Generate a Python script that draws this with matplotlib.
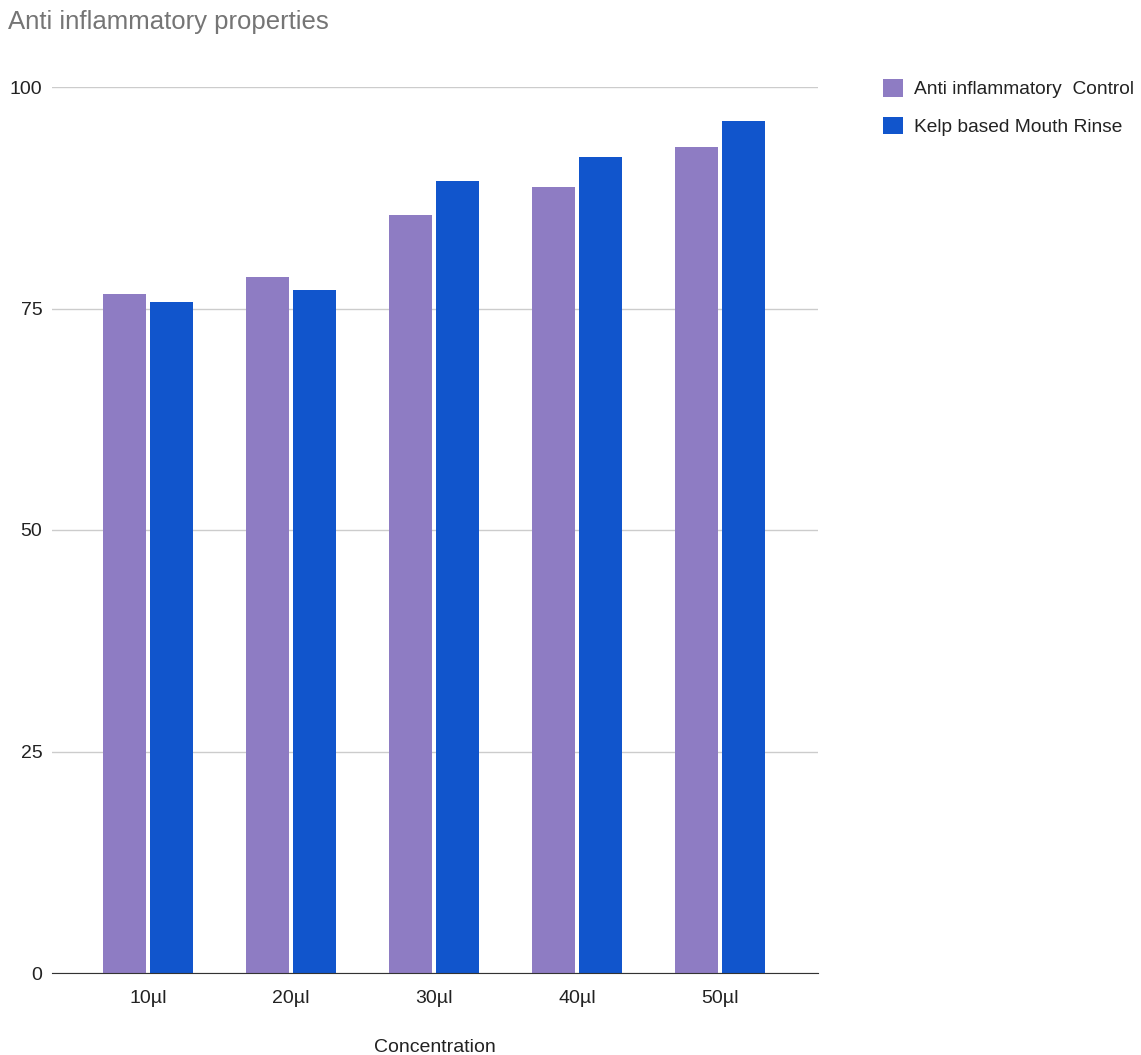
import numpy as np
import matplotlib.pyplot as plt

plt.rcParams['font.family'] = ['Liberation Sans', 'DejaVu Sans']

# Концентрации и значения (%)
concentrations = ["10µl", "20µl", "30µl", "40µl", "50µl"]
control = [76.6, 78.6, 85.6, 88.7, 93.2]
kelp_rinse = [75.7, 77.1, 89.4, 92.1, 96.2]
series_names = ["Anti inflammatory  Control", "Kelp based Mouth Rinse"]

W, H = 1141, 1055
fig = plt.figure(figsize=(W / 100, H / 100), dpi=100)
ax = fig.add_axes([52 / W, 1 - 973 / H, (818 - 52) / W, (973 - 87) / H])

x = np.arange(len(concentrations))
w = 0.30
b1 = ax.bar(x - 0.163, control, w, color="#8e7cc3", label=series_names[0], zorder=3)
b2 = ax.bar(x + 0.163, kelp_rinse, w, color="#1155cc", label=series_names[1], zorder=3)

ax.set_ylim(0, 100)
ax.set_xlim(-0.671, 4.685)
ax.set_yticks([0, 25, 50, 75, 100])
ax.set_xticks(x)
ax.set_xticklabels(concentrations)
ax.tick_params(length=0, labelsize=14, colors="#222222")
ax.tick_params(axis="y", pad=7)
ax.tick_params(axis="x", pad=12)
ax.grid(axis="y", color="#cccccc", linewidth=1, zorder=0)
for s in ["top", "right", "left"]:
    ax.spines[s].set_visible(False)
ax.spines["bottom"].set_color("#333333")
ax.spines["bottom"].set_zorder(4)

fig.text(435 / W, 1 - 1047 / H, "Concentration", fontsize=14, color="#222222",
         ha="center", va="center")

fig.text(8 / W, 1 - 22 / H, "Anti inflammatory properties", fontsize=18.5,
         color="#757575", va="center", ha="left")

fig.legend(handles=[b1, b2], loc="upper left", bbox_to_anchor=(883 / W, 1 - 79 / H),
           frameon=False, fontsize=13.8, handlelength=1.05, handleheight=1.05,
           handletextpad=0.55, labelspacing=0.95, borderpad=0, borderaxespad=0,
           labelcolor="#222222")

fig.savefig("out.png", dpi=100)
